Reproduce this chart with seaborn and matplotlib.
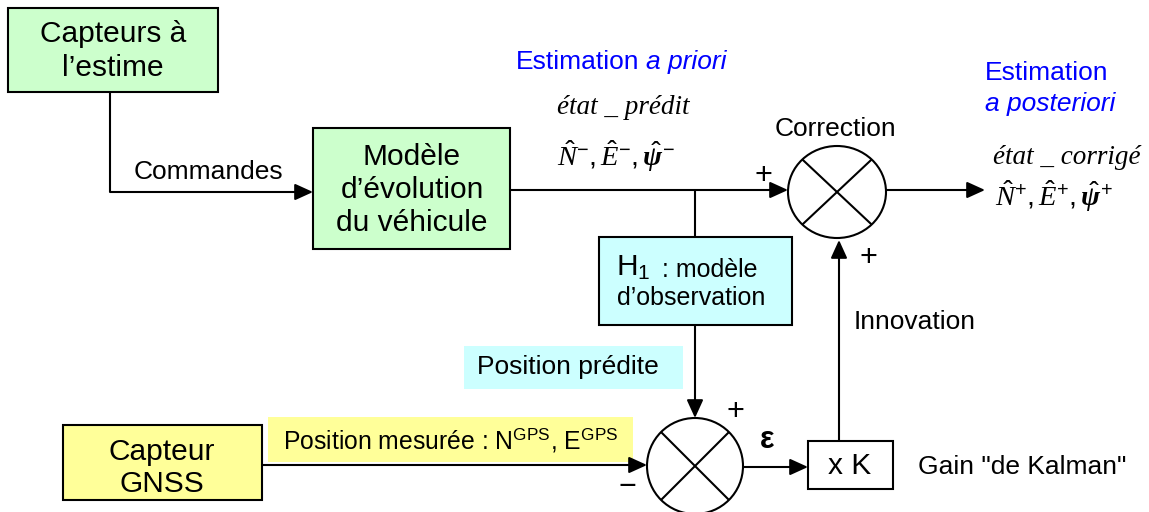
import matplotlib
matplotlib.use("Agg")
import matplotlib.pyplot as plt
from matplotlib.patches import Rectangle, Ellipse
import seaborn as sns

# labels of the diagram
box_labels = ["Capteurs à\nl’estime", "Modèle\nd’évolution\ndu véhicule", "Capteur\nGNSS", "x K"]
signal_labels = ["Commandes", "Correction", "Innovation", "Gain \"de Kalman\""]
estimation_labels = ["Estimation", "a priori", "Estimation", "a posteriori"]
state_labels = ["état _ prédit", "état _ corrigé"]
state_math = [r"$\hat{N}^{-},\hat{E}^{-},\hat{\boldsymbol{\psi}}^{-}$",
              r"$\hat{N}^{+},\hat{E}^{+},\hat{\boldsymbol{\psi}}^{+}$"]
obs_labels = [r"H$_{\mathrm{1}}$", ": modèle", "d’observation", "Position prédite"]
gps_label = r"Position mesurée : N$^{\mathrm{GPS}}$, E$^{\mathrm{GPS}}$"

GREEN = "#CCFFCC"
CYAN = "#CCFFFF"
YELLOW = "#FFFF99"
BLUE = "#0000FF"
LW = 1.5

sns.set_theme(style="white")
plt.rcParams['font.family'] = ['Liberation Sans', 'DejaVu Sans']
plt.rcParams['text.color'] = 'black'
plt.rcParams['mathtext.fontset'] = 'custom'
plt.rcParams['mathtext.rm'] = 'Liberation Sans'
plt.rcParams['mathtext.it'] = 'Liberation Serif:italic'
plt.rcParams['mathtext.bf'] = 'Liberation Serif:bold'
plt.rcParams['mathtext.bfit'] = 'Liberation Serif:italic:bold'

fig = plt.figure(figsize=(11.49, 5.12), dpi=100)
ax = fig.add_axes([0, 0, 1, 1])
ax.set_xlim(0, 1149)
ax.set_ylim(512, 0)
ax.set_axis_off()

BIG = 21.5
MID = 19


def box(x0, y0, x1, y1, fc, ec="black"):
    ax.add_patch(Rectangle((x0, y0), x1 - x0, y1 - y0, facecolor=fc,
                           edgecolor=ec, lw=LW if ec != "none" else 0, zorder=2))


def arrow(p0, p1):
    ax.annotate("", xy=p1, xytext=p0,
                arrowprops=dict(arrowstyle="-|>,head_length=0.55,head_width=0.25",
                                mutation_scale=20, lw=LW, color="black",
                                shrinkA=0, shrinkB=0), zorder=3)


def line(xs, ys):
    ax.plot(xs, ys, color="black", lw=LW, solid_capstyle="butt", zorder=3)


def summer(cx, cy, w, h):
    ax.add_patch(Ellipse((cx, cy), w, h, facecolor="white", edgecolor="black", lw=LW, zorder=3))
    dx, dy = w / 2 * 0.7071, h / 2 * 0.7071
    line([cx - dx, cx + dx], [cy - dy, cy + dy])
    line([cx - dx, cx + dx], [cy + dy, cy - dy])


# blocks
box(8, 8, 218, 92, GREEN)
ax.text(113, 51, box_labels[0], ha="center", va="center", fontsize=BIG, linespacing=1.25, zorder=4)
box(313, 128, 510, 249, GREEN)
ax.text(412, 190, box_labels[1], ha="center", va="center", fontsize=BIG, linespacing=1.22, zorder=4)
box(63, 425, 262, 500, YELLOW)
ax.text(162, 468, box_labels[2], ha="center", va="center", fontsize=BIG, linespacing=1.22, zorder=4)
box(808, 441, 893, 489, "white")
ax.text(850, 466, box_labels[3], ha="center", va="center", fontsize=BIG, zorder=4)

# observation model
box(599, 237, 792, 325, CYAN)
ax.text(616, 268, obs_labels[0], ha="left", va="center", fontsize=BIG, zorder=4)
ax.text(662, 270, obs_labels[1], ha="left", va="center", fontsize=18, zorder=4)
ax.text(617, 298, obs_labels[2], ha="left", va="center", fontsize=18, zorder=4)
box(464, 346, 683, 389, CYAN, ec="none")
ax.text(477, 367, obs_labels[3], ha="left", va="center", fontsize=MID, zorder=4)

# GPS measurement label
box(268, 417, 633, 462, YELLOW, ec="none")
ax.text(283, 440, gps_label, ha="left", va="center", fontsize=17.8, zorder=4)

# connections
line([110, 110], [92, 192])
arrow((110, 192), (313, 192))
ax.text(208, 172, signal_labels[0], ha="center", va="center", fontsize=MID, zorder=4)

arrow((510, 190), (788, 190))
line([695, 695], [190, 237])
arrow((695, 325), (695, 418))

arrow((262, 465), (647, 465))
arrow((743, 467), (808, 467))
line([839, 839], [441, 300])
arrow((839, 300), (839, 240))
arrow((886, 190), (985, 190))

# summing junctions
summer(837, 192, 98, 92)
summer(695, 466, 96, 96)

ax.text(835, 129, signal_labels[1], ha="center", va="center", fontsize=MID, zorder=4)
ax.text(915, 322, signal_labels[2], ha="center", va="center", fontsize=MID, zorder=4)
ax.text(918, 467, signal_labels[3], ha="left", va="center", fontsize=MID, zorder=4)

ax.text(763, 176, "+", ha="center", va="center", fontsize=22, zorder=4)
ax.text(868, 258, "+", ha="center", va="center", fontsize=22, zorder=4)
ax.text(735, 412, "+", ha="center", va="center", fontsize=22, zorder=4)
ax.text(627, 487, "−", ha="center", va="center", fontsize=22, zorder=4)
ax.text(767, 440, "ε", ha="center", va="center", fontsize=22, fontweight="bold", zorder=4)

# estimation annotations
ax.text(516, 62, estimation_labels[0], ha="left", va="center", fontsize=MID, color=BLUE, zorder=4)
ax.text(646, 62, estimation_labels[1], ha="left", va="center", fontsize=MID, color=BLUE,
        style="italic", zorder=4)
ax.text(985, 73, estimation_labels[2], ha="left", va="center", fontsize=MID, color=BLUE, zorder=4)
ax.text(985, 104, estimation_labels[3], ha="left", va="center", fontsize=MID, color=BLUE,
        style="italic", zorder=4)

ax.text(557, 108, state_labels[0], ha="left", va="center", fontsize=19.5,
        family=["Liberation Serif"], style="italic", zorder=4)
ax.text(557, 156, state_math[0], ha="left", va="center", fontsize=20.5, zorder=4)
ax.text(993, 157, state_labels[1], ha="left", va="center", fontsize=19.5,
        family=["Liberation Serif"], style="italic", zorder=4)
ax.text(995, 196, state_math[1], ha="left", va="center", fontsize=20.5, zorder=4)

fig.savefig("out.png", dpi=100)
